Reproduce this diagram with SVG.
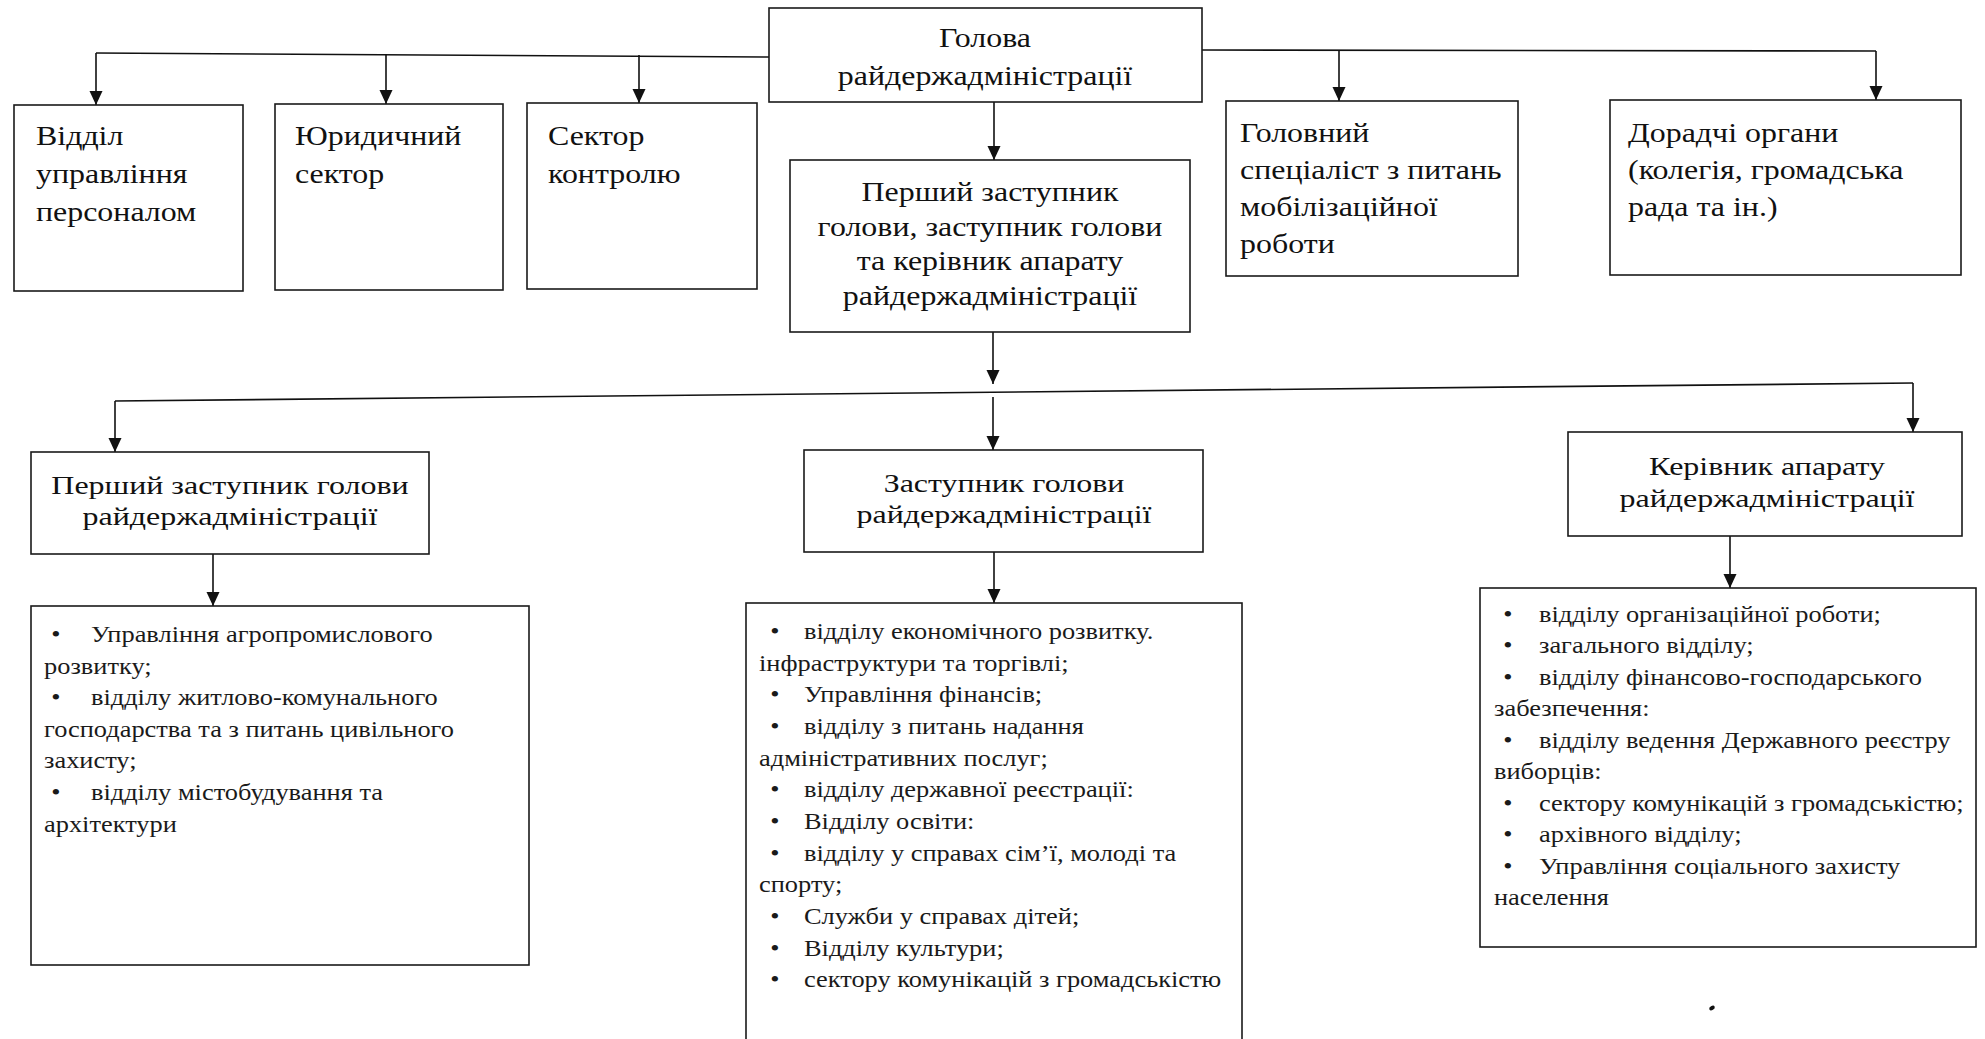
<svg xmlns="http://www.w3.org/2000/svg" width="1985" height="1039" viewBox="0 0 1985 1039">
<defs>
<style>
.bg{fill:#fff}
.box{fill:#fff;stroke:#1a1a1a;stroke-width:1.6}
.t{font-family:"Liberation Serif","Times New Roman",serif;fill:#111}
.h{font-size:28px}
.m{font-size:26px}
.l{font-size:24px;fill:#1a1a1a}
.c{text-anchor:middle}
.ln{stroke:#111;stroke-width:1.6;fill:none}
.ar{stroke:#111;stroke-width:1.6;fill:none;marker-end:url(#arr)}
</style>
<marker id="arr" markerUnits="userSpaceOnUse" markerWidth="14" markerHeight="14" refX="14" refY="6.5" orient="auto">
<path d="M0,0 L14,6.5 L0,13 Z" fill="#111"/>
</marker>
</defs>
<rect class="bg" x="0" y="0" width="1985" height="1039"/>

<g id="connectors">
<polyline class="ln" points="769,57 96,53"/>
<line class="ar" x1="96" y1="53" x2="96" y2="105"/>
<line class="ar" x1="386" y1="54" x2="386" y2="104"/>
<line class="ar" x1="639" y1="55" x2="639" y2="103"/>
<polyline class="ln" points="1202,50 1876,51"/>
<line class="ar" x1="1339" y1="50" x2="1339" y2="101"/>
<line class="ar" x1="1876" y1="51" x2="1876" y2="100"/>
<line class="ar" x1="994" y1="102" x2="994" y2="160"/>
<line class="ar" x1="993" y1="332" x2="993" y2="384"/>
<polyline class="ln" points="115,401 1913,383"/>
<line class="ar" x1="115" y1="401" x2="115" y2="452"/>
<line class="ar" x1="993" y1="397" x2="993" y2="450"/>
<line class="ar" x1="1913" y1="383" x2="1913" y2="432"/>
<line class="ar" x1="213" y1="554" x2="213" y2="606"/>
<line class="ar" x1="994" y1="552" x2="994" y2="603"/>
<line class="ar" x1="1730" y1="536" x2="1730" y2="588"/>
</g>

<g id="golova">
<rect class="box" x="769" y="8" width="433" height="94"/>
<g transform="translate(985 0) scale(1.14 1)">
<text class="t h c" x="0" y="47">Голова</text>
<text class="t h c" x="0" y="85">райдержадміністрації</text>
</g>
</g>

<g id="personnel">
<rect class="box" x="14" y="105" width="229" height="186"/>
<g transform="translate(36 0) scale(1.14 1)">
<text class="t h" x="0" y="145">Відділ</text>
<text class="t h" x="0" y="183">управління</text>
<text class="t h" x="0" y="221">персоналом</text>
</g>
</g>

<g id="legal">
<rect class="box" x="275" y="104" width="228" height="186"/>
<g transform="translate(295 0) scale(1.14 1)">
<text class="t h" x="0" y="145">Юридичний</text>
<text class="t h" x="0" y="183">сектор</text>
</g>
</g>

<g id="control">
<rect class="box" x="527" y="103" width="230" height="186"/>
<g transform="translate(548 0) scale(1.14 1)">
<text class="t h" x="0" y="145">Сектор</text>
<text class="t h" x="0" y="183">контролю</text>
</g>
</g>

<g id="mobilization">
<rect class="box" x="1226" y="101" width="292" height="175"/>
<g transform="translate(1240 0) scale(1.14 1)">
<text class="t h" x="0" y="142">Головний</text>
<text class="t h" x="0" y="179">спеціаліст з питань</text>
<text class="t h" x="0" y="216">мобілізаційної</text>
<text class="t h" x="0" y="253">роботи</text>
</g>
</g>

<g id="advisory">
<rect class="box" x="1610" y="100" width="351" height="175"/>
<g transform="translate(1628 0) scale(1.14 1)">
<text class="t h" x="0" y="142">Дорадчі органи</text>
<text class="t h" x="0" y="179">(колегія, громадська</text>
<text class="t h" x="0" y="216">рада та ін.)</text>
</g>
</g>

<g id="deputies">
<rect class="box" x="790" y="160" width="400" height="172"/>
<g transform="translate(990 0) scale(1.14 1)">
<text class="t h c" x="0" y="201">Перший заступник</text>
<text class="t h c" x="0" y="236">голови, заступник голови</text>
<text class="t h c" x="0" y="270">та керівник апарату</text>
<text class="t h c" x="0" y="305">райдержадміністрації</text>
</g>
</g>

<g id="first-deputy">
<rect class="box" x="31" y="452" width="398" height="102"/>
<g transform="translate(230 0) scale(1.23 1)">
<text class="t m c" x="0" y="494">Перший заступник голови</text>
<text class="t m c" x="0" y="525">райдержадміністрації</text>
</g>
</g>

<g id="deputy">
<rect class="box" x="804" y="450" width="399" height="102"/>
<g transform="translate(1004 0) scale(1.23 1)">
<text class="t m c" x="0" y="492">Заступник голови</text>
<text class="t m c" x="0" y="523">райдержадміністрації</text>
</g>
</g>

<g id="head-apparatus">
<rect class="box" x="1568" y="432" width="394" height="104"/>
<g transform="translate(1767 0) scale(1.23 1)">
<text class="t m c" x="0" y="475">Керівник апарату</text>
<text class="t m c" x="0" y="507">райдержадміністрації</text>
</g>
</g>

<g id="list-first-deputy">
<rect class="box" x="31" y="606" width="498" height="359"/>
<g transform="translate(44 0) scale(1.1 1)">
<text class="t l c" x="10.9" y="642">•</text><text class="t l" x="42.7" y="642">Управління агропромислового</text>
<text class="t l" x="0" y="674">розвитку;</text>
<text class="t l c" x="10.9" y="705">•</text><text class="t l" x="42.7" y="705">відділу житлово-комунального</text>
<text class="t l" x="0" y="737">господарства та з питань цивільного</text>
<text class="t l" x="0" y="768">захисту;</text>
<text class="t l c" x="10.9" y="800">•</text><text class="t l" x="42.7" y="800">відділу містобудування та</text>
<text class="t l" x="0" y="832">архітектури</text>
</g>
</g>

<g id="list-deputy">
<rect class="box" x="746" y="603" width="496" height="450"/>
<g transform="translate(759 0) scale(1.1 1)">
<text class="t l c" x="14.5" y="639">•</text><text class="t l" x="40.9" y="639">відділу економічного розвитку.</text>
<text class="t l" x="0" y="671">інфраструктури та торгівлі;</text>
<text class="t l c" x="14.5" y="702">•</text><text class="t l" x="40.9" y="702">Управління фінансів;</text>
<text class="t l c" x="14.5" y="734">•</text><text class="t l" x="40.9" y="734">відділу з питань надання</text>
<text class="t l" x="0" y="766">адміністративних послуг;</text>
<text class="t l c" x="14.5" y="797">•</text><text class="t l" x="40.9" y="797">відділу державної реєстрації:</text>
<text class="t l c" x="14.5" y="829">•</text><text class="t l" x="40.9" y="829">Відділу освіти:</text>
<text class="t l c" x="14.5" y="861">•</text><text class="t l" x="40.9" y="861">відділу у справах сім’ї, молоді та</text>
<text class="t l" x="0" y="892">спорту;</text>
<text class="t l c" x="14.5" y="924">•</text><text class="t l" x="40.9" y="924">Служби у справах дітей;</text>
<text class="t l c" x="14.5" y="956">•</text><text class="t l" x="40.9" y="956">Відділу культури;</text>
<text class="t l c" x="14.5" y="987">•</text><text class="t l" x="40.9" y="987">сектору комунікацій з громадськістю</text>
</g>
</g>

<g id="list-apparatus">
<rect class="box" x="1480" y="588" width="496" height="359"/>
<g transform="translate(1494 0) scale(1.1 1)">
<text class="t l c" x="12.7" y="622">•</text><text class="t l" x="40.9" y="622">відділу організаційної роботи;</text>
<text class="t l c" x="12.7" y="653">•</text><text class="t l" x="40.9" y="653">загального відділу;</text>
<text class="t l c" x="12.7" y="685">•</text><text class="t l" x="40.9" y="685">відділу фінансово-господарського</text>
<text class="t l" x="0" y="716">забезпечення:</text>
<text class="t l c" x="12.7" y="748">•</text><text class="t l" x="40.9" y="748">відділу ведення Державного реєстру</text>
<text class="t l" x="0" y="779">виборців:</text>
<text class="t l c" x="12.7" y="811">•</text><text class="t l" x="40.9" y="811">сектору комунікацій з громадськістю;</text>
<text class="t l c" x="12.7" y="842">•</text><text class="t l" x="40.9" y="842">архівного відділу;</text>
<text class="t l c" x="12.7" y="874">•</text><text class="t l" x="40.9" y="874">Управління соціального захисту</text>
<text class="t l" x="0" y="905">населення</text>
</g>
</g>

<ellipse cx="1712" cy="1008" rx="3" ry="2" transform="rotate(-30 1712 1008)" fill="#111"/>
</svg>
